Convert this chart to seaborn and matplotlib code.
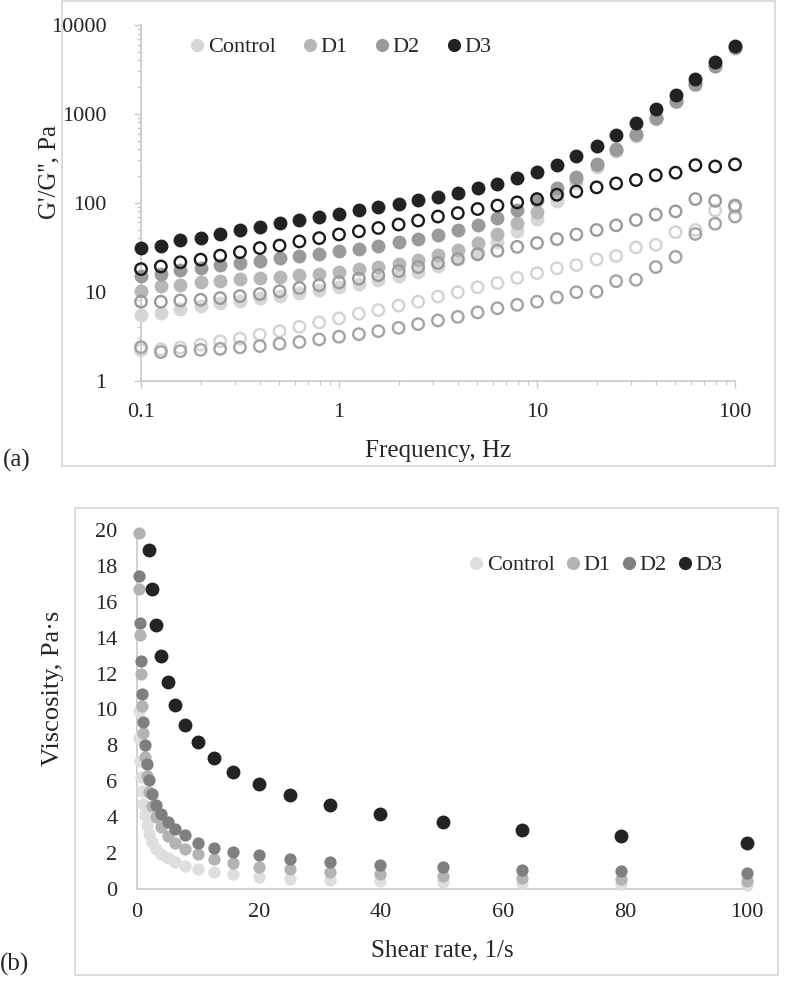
import numpy as np
import pandas as pd
import seaborn as sns
import matplotlib.pyplot as plt
from matplotlib.patches import Rectangle
from matplotlib.lines import Line2D
from matplotlib.ticker import LogLocator, NullFormatter, FixedLocator, FixedFormatter

# ---------------- data: (a) oscillatory frequency sweep ----------------
FREQ = [0.1, 0.126, 0.158, 0.2, 0.251, 0.316, 0.398, 0.501, 0.631, 0.794,
        1.0, 1.26, 1.58, 2.0, 2.51, 3.16, 3.98, 5.01, 6.31, 7.94,
        10.0, 12.6, 15.8, 20.0, 25.1, 31.6, 39.8, 50.1, 63.1, 79.4, 100.0]
SAMPLES = ["Control", "D1", "D2", "D3"]

GP_CONTROL = [5.4, 5.75, 6.4, 6.96, 7.4, 7.86, 8.4, 9.0, 9.6, 10.3,
              11.2, 12.3, 13.5, 15.0, 16.8, 19.5, 23, 28, 36, 48,
              66, 105, 165, 250, 380, 570, 870, 1350, 2130, 3420, 5450]
GP_D1 = [10.1, 11.5, 12, 12.7, 13.3, 13.9, 14.3, 14.6, 15.3, 15.9,
         16.8, 17.8, 18.9, 20.6, 22.5, 25.8, 29.2, 34.8, 44.6, 58.9,
         78.6, 125, 185, 265, 395, 585, 890, 1380, 2160, 3450, 5500]
GP_D2 = [14.8, 15.9, 17.6, 18.6, 19.9, 21.2, 22.1, 23.7, 25.4, 26.8,
         28.5, 30, 32.7, 35.8, 39, 43.4, 49.4, 56.9, 67, 82,
         108, 146, 197, 273, 405, 594, 902, 1397, 2190, 3500, 5600]
GP_D3 = [30.9, 33, 38, 40, 45, 50, 54, 59, 64, 69,
         75, 82, 90, 96, 107, 116, 129, 146, 162, 189,
         223, 268, 338, 432, 573, 785, 1133, 1636, 2490, 3787, 5870]

GPP_CONTROL = [2.2, 2.25, 2.35, 2.53, 2.76, 2.96, 3.28, 3.59, 4.02, 4.5,
               5.0, 5.65, 6.2, 6.96, 7.7, 8.8, 9.85, 11.2, 12.5, 14.3,
               16.1, 18.3, 19.9, 23.1, 25.2, 31.4, 33.7, 46.6, 49.4, 82, 88]
GPP_D1 = [2.37, 2.09, 2.14, 2.21, 2.27, 2.36, 2.44, 2.59, 2.71, 2.9,
          3.11, 3.32, 3.59, 3.91, 4.31, 4.74, 5.2, 5.84, 6.5, 7.1,
          7.7, 8.6, 9.85, 10.0, 13.1, 13.6, 18.9, 24.6, 44.6, 58, 70]
GPP_D2 = [7.7, 7.7, 7.96, 8.1, 8.45, 8.9, 9.4, 10.1, 11.0, 11.8,
          12.7, 14.0, 15.3, 17.0, 18.9, 21, 23.3, 26.3, 28.8, 31.9,
          35.2, 39, 44, 49.4, 55.7, 64, 73.7, 80, 110, 105, 93]
GPP_D3 = [17.9, 19.2, 21.4, 22.9, 25.4, 27.8, 30.9, 33, 36.7, 40,
          44, 47.7, 52, 56.9, 63, 70, 76.5, 85, 93, 101,
          110, 123, 134, 149, 165, 180, 204, 218, 265, 256, 270]

# ---------------- data: (b) flow curve ----------------
SHEAR = [0.316, 0.398, 0.501, 0.631, 0.794,
         1.0, 1.26, 1.58, 2.0, 2.51, 3.16, 3.98, 5.01, 6.31, 7.94,
         10.0, 12.6, 15.8, 20.0, 25.1, 31.6, 39.8, 50.1, 63.1, 79.4, 100.0]
VISC_CONTROL = [9.9, 8.4, 7.15, 6.26, 5.45,
                4.75, 4.1, 3.55, 3.05, 2.6, 2.25, 1.95, 1.7, 1.48, 1.3,
                1.12, 0.97, 0.84, 0.69, 0.57, 0.5, 0.45, 0.37, 0.32, 0.26, 0.22]
VISC_D1 = [19.85, 16.7, 14.15, 11.98, 10.2,
           8.71, 7.37, 6.3, 5.4, 4.65, 4.03, 3.47, 2.97, 2.55, 2.21,
           1.93, 1.65, 1.43, 1.24, 1.1, 0.95, 0.84, 0.72, 0.61, 0.54, 0.46]
VISC_D2 = [np.nan, 17.45, 14.8, 12.7, 10.85,
           9.3, 8.0, 6.95, 6.05, 5.27, 4.66, 4.16, 3.73, 3.32, 2.99,
           2.58, 2.29, 2.06, 1.87, 1.65, 1.49, 1.34, 1.21, 1.08, 0.99, 0.91]
VISC_D3 = [np.nan, np.nan, np.nan, np.nan, np.nan,
           np.nan, np.nan, np.nan, 18.9, 16.7, 14.7, 13.0, 11.54, 10.27, 9.13,
           8.18, 7.32, 6.53, 5.86, 5.23, 4.68, 4.16, 3.73, 3.31, 2.93, 2.58]

# ---------------- styling ----------------
sns.set_theme(style="white")
plt.rcParams['font.family'] = ['Liberation Serif', 'DejaVu Serif']
TXT = '#262626'
AXC = '#c8c8c8'
FRAME = '#d9d9d9'

COL_TOP_FILLED = {"Control": "#d6d6d6", "D1": "#b7b7b7", "D2": "#9a9a9a", "D3": "#222222"}
COL_TOP_OPEN = {"Control": "#d3d3d3", "D1": "#a3a3a3", "D2": "#9a9a9a", "D3": "#1a1a1a"}
COL_BOT = {"Control": "#dedede", "D1": "#b3b3b3", "D2": "#7f7f7f", "D3": "#232323"}

W, H = 788, 984
fig = plt.figure(figsize=(W / 100, H / 100), dpi=100)


def fx(px):
    return px / W


def fy(py):
    return 1 - py / H


# frames
fig.patches.append(Rectangle((fx(62), fy(466)), fx(775) - fx(62), fy(1) - fy(466),
                             transform=fig.transFigure, fill=False, edgecolor=FRAME, lw=1.3))
fig.patches.append(Rectangle((fx(75), fy(975)), fx(778) - fx(75), fy(508) - fy(975),
                             transform=fig.transFigure, fill=False, edgecolor=FRAME, lw=1.3))

TICK_FS = 16
LAB_FS = 18
LEG_FS = 16

# ---------------- (a) ----------------
ax1 = fig.add_axes([fx(141), fy(380.5), fx(735) - fx(141), fy(25) - fy(380.5)])
gp = {"Control": GP_CONTROL, "D1": GP_D1, "D2": GP_D2, "D3": GP_D3}
gpp = {"Control": GPP_CONTROL, "D1": GPP_D1, "D2": GPP_D2, "D3": GPP_D3}

for s in SAMPLES:
    df = pd.DataFrame({"freq": FREQ, "val": gp[s]})
    sns.scatterplot(data=df, x="freq", y="val", ax=ax1, color=COL_TOP_FILLED[s],
                    s=100, linewidth=0, clip_on=False, legend=False, zorder=3)
for s in SAMPLES:
    df = pd.DataFrame({"freq": FREQ, "val": gpp[s]})
    sns.scatterplot(data=df, x="freq", y="val", ax=ax1, color=COL_TOP_OPEN[s],
                    s=68, linewidth=1.7, clip_on=False, legend=False, zorder=4)
    coll = ax1.collections[-1]
    coll.set_facecolor('none')
    coll.set_edgecolor(COL_TOP_OPEN[s])

ax1.set_xscale('log')
ax1.set_yscale('log')
ax1.set_xlim(0.1, 100)
ax1.set_ylim(1, 10000)
ax1.xaxis.set_major_locator(FixedLocator([0.1, 1, 10, 100]))
ax1.xaxis.set_major_formatter(FixedFormatter(["0.1", "1", "10", "100"]))
ax1.yaxis.set_major_locator(FixedLocator([1, 10, 100, 1000, 10000]))
ax1.yaxis.set_major_formatter(FixedFormatter(["1", "10", "100", "1000", "10000"]))
ax1.xaxis.set_minor_locator(LogLocator(base=10, subs=np.arange(2, 10)))
ax1.yaxis.set_minor_locator(LogLocator(base=10, subs=np.arange(2, 10)))
ax1.xaxis.set_minor_formatter(NullFormatter())
ax1.yaxis.set_minor_formatter(NullFormatter())
for sp in ['top', 'right']:
    ax1.spines[sp].set_visible(False)
for sp in ['left', 'bottom']:
    ax1.spines[sp].set_color(AXC)
    ax1.spines[sp].set_linewidth(1.2)
ax1.tick_params(which='major', axis='both', direction='out', length=5, width=1.0,
                color=AXC, labelsize=TICK_FS, labelcolor=TXT, left=True, bottom=True)
ax1.tick_params(which='minor', axis='both', direction='out', length=3, width=0.9,
                color=AXC, left=True, bottom=True)
ax1.tick_params(axis='y', which='major', pad=20)
ax1.tick_params(axis='x', which='major', pad=11)
ax1.set_xlabel("Frequency, Hz", fontsize=LAB_FS, color=TXT, labelpad=13)
ax1.set_ylabel("")
fig.text(fx(49), fy(172), "G'/G'', Pa", fontsize=LAB_FS, color=TXT,
         rotation=90, ha='center', va='center')
ax1.grid(False)
ax1.set_facecolor('none')

h1 = [Line2D([], [], marker='o', linestyle='', markersize=9.5, markeredgewidth=0,
             markerfacecolor=COL_TOP_FILLED[s]) for s in SAMPLES]
fig.legend(h1, SAMPLES, loc='center left', bbox_to_anchor=(fx(189), fy(47)), ncol=4,
           frameon=False, fontsize=LEG_FS, handletextpad=0.15, columnspacing=1.17,
           handlelength=0.7, borderpad=0, borderaxespad=0, labelcolor=TXT)

fig.text(fx(3), fy(460), "(a)", fontsize=LAB_FS, color=TXT, va='center', ha='left')

# ---------------- (b) ----------------
ax2 = fig.add_axes([fx(137), fy(889), fx(747) - fx(137), fy(530) - fy(889)])
visc = {"Control": VISC_CONTROL, "D1": VISC_D1, "D2": VISC_D2, "D3": VISC_D3}
sizes = {"Control": 78, "D1": 78, "D2": 78, "D3": 100}
for s in SAMPLES:
    df = pd.DataFrame({"shear": SHEAR, "visc": visc[s]}).dropna()
    sns.scatterplot(data=df, x="shear", y="visc", ax=ax2, color=COL_BOT[s],
                    s=sizes[s], linewidth=0, clip_on=False, legend=False, zorder=3)
ax2.set_xlim(0, 100)
ax2.set_ylim(0, 20)
ax2.set_xticks([0, 20, 40, 60, 80, 100])
ax2.set_yticks(list(range(0, 21, 2)))
for sp in ['top', 'right']:
    ax2.spines[sp].set_visible(False)
for sp in ['left', 'bottom']:
    ax2.spines[sp].set_color(AXC)
    ax2.spines[sp].set_linewidth(1.2)
ax2.tick_params(axis='both', length=0, labelsize=TICK_FS, labelcolor=TXT)
ax2.tick_params(axis='y', pad=14)
ax2.tick_params(axis='x', pad=10)
ax2.set_xlabel("Shear rate, 1/s", fontsize=LAB_FS, color=TXT, labelpad=13)
ax2.set_ylabel("")
fig.text(fx(53), fy(688), "Viscosity, Pa·s", fontsize=19, color=TXT,
         rotation=90, ha='center', va='center')
ax2.grid(False)
ax2.set_facecolor('none')

h2 = [Line2D([], [], marker='o', linestyle='', markersize=9.5, markeredgewidth=0,
             markerfacecolor=COL_BOT[s]) for s in SAMPLES]
fig.legend(h2, SAMPLES, loc='center left', bbox_to_anchor=(fx(468), fy(565)), ncol=4,
           frameon=False, fontsize=LEG_FS, handletextpad=0.15, columnspacing=0.45,
           handlelength=0.7, borderpad=0, borderaxespad=0, labelcolor=TXT)

fig.text(fx(0), fy(964), "(b)", fontsize=LAB_FS, color=TXT, va='center', ha='left')

fig.savefig("out.png", dpi=100, facecolor='white')
